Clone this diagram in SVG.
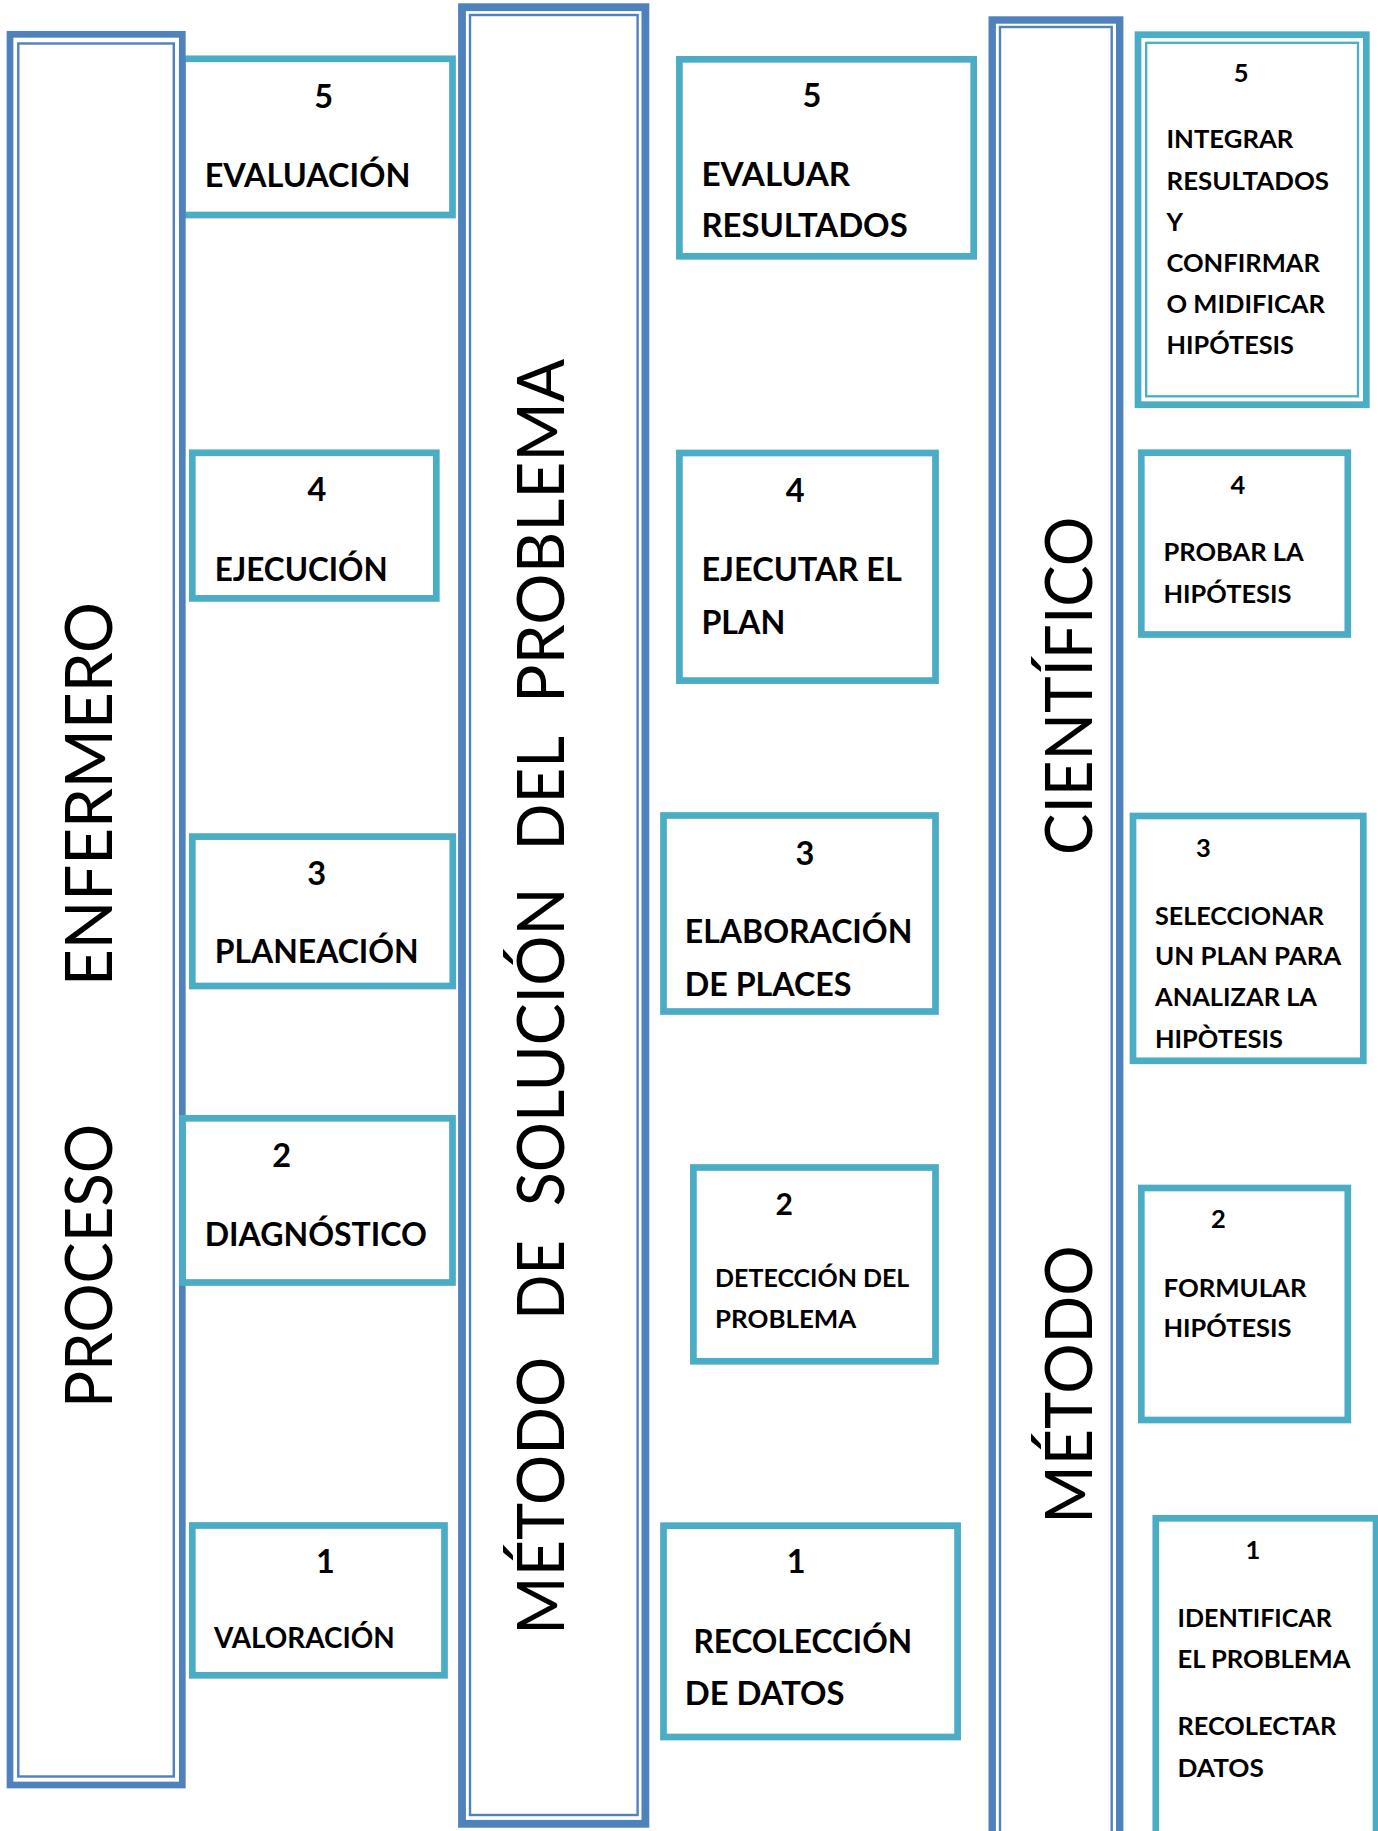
<svg xmlns="http://www.w3.org/2000/svg" width="1378" height="1831" viewBox="0 0 1378 1831">
  <style>
    .col-outer { fill: none; stroke: #4F81BD; }
    .col-inner { fill: none; stroke: #4F81BD; stroke-width: 2.4; }
    .box { fill: none; stroke: #4BACC6; stroke-width: 6.7; }
    .box-thin { fill: none; stroke: #4BACC6; stroke-width: 2.3; }
    text { font-family: Lato, "Open Sans", "Liberation Sans", sans-serif; fill: #000; }
    .num { font-weight: 700; text-anchor: middle; }
    .lbl { font-weight: 700; }
    .big { font-size: 32.5px; }
    .mid { font-size: 28.5px; }
    .sm { font-size: 25.5px; }
    .vert { font-weight: 400; font-size: 65px; }
  </style>

  <rect x="0" y="0" width="1378" height="1831" fill="#FFFFFF"/>

  <!-- step 5 of the nursing process sits partly under the column frame -->
  <g id="pe-5">
    <rect class="box" x="182.3" y="58.8" width="270.2" height="156.2"/>
    <text class="num big" x="323.7" y="108.3">5</text>
    <text class="lbl big" x="204.7" y="186.7" textLength="205.7" lengthAdjust="spacingAndGlyphs">EVALUACIÓN</text>
  </g>

  <!-- column frames with vertical titles -->
  <g id="col-proceso-enfermero">
    <rect class="col-outer" stroke-width="6.7" x="10" y="34.3" width="172.3" height="1750.7"/>
    <rect class="col-inner" x="18.3" y="43.5" width="155.5" height="1733"/>
    <g transform="rotate(-90)">
      <text class="vert" x="-1408" y="111.5" textLength="284" lengthAdjust="spacingAndGlyphs">PROCESO</text>
      <text class="vert" x="-986" y="111.5" textLength="384" lengthAdjust="spacingAndGlyphs">ENFERMERO</text>
    </g>
  </g>

  <g id="col-solucion-problema">
    <rect class="col-outer" stroke-width="7.8" x="462" y="7.2" width="183.4" height="1816.6"/>
    <rect class="col-inner" x="470" y="15" width="167.6" height="1800"/>
    <g transform="rotate(-90)">
      <text class="vert" x="-1634.7" y="564" textLength="278" lengthAdjust="spacingAndGlyphs">MÉTODO</text>
      <text class="vert" x="-1319.7" y="564" textLength="79.4" lengthAdjust="spacingAndGlyphs">DE</text>
      <text class="vert" x="-1206.3" y="564" textLength="318.6" lengthAdjust="spacingAndGlyphs">SOLUCIÓN</text>
      <text class="vert" x="-850.4" y="564" textLength="114.4" lengthAdjust="spacingAndGlyphs">DEL</text>
      <text class="vert" x="-703" y="564" textLength="344.3" lengthAdjust="spacingAndGlyphs">PROBLEMA</text>
    </g>
  </g>

  <g id="col-metodo-cientifico">
    <rect class="col-outer" stroke-width="7.4" x="992.2" y="20" width="127.5" height="1900"/>
    <rect class="col-inner" x="1000" y="27" width="111.7" height="1900"/>
    <g transform="rotate(-90)">
      <text class="vert" x="-1523.7" y="1091.7" textLength="278.4" lengthAdjust="spacingAndGlyphs">MÉTODO</text>
      <text class="vert" x="-855" y="1091.7" textLength="338.4" lengthAdjust="spacingAndGlyphs">CIENTÍFICO</text>
    </g>
  </g>

  <!-- nursing process steps -->
  <g id="pe-4">
    <rect class="box" x="192.3" y="452.8" width="244" height="145.6"/>
    <text class="num big" x="317" y="501.4">4</text>
    <text class="lbl big" x="214.7" y="581" textLength="173" lengthAdjust="spacingAndGlyphs">EJECUCIÓN</text>
  </g>
  <g id="pe-3">
    <rect class="box" x="192.3" y="836.6" width="260.5" height="149.4"/>
    <text class="num big" x="316.7" y="884.6">3</text>
    <text class="lbl big" x="214.7" y="963.2" textLength="204" lengthAdjust="spacingAndGlyphs">PLANEACIÓN</text>
  </g>
  <g id="pe-2">
    <rect class="box" x="182.5" y="1118.3" width="270" height="164.2"/>
    <text class="num big" x="281.7" y="1166.7">2</text>
    <text class="lbl big" x="204.7" y="1245.7" textLength="222.3" lengthAdjust="spacingAndGlyphs">DIAGNÓSTICO</text>
  </g>
  <g id="pe-1">
    <rect class="box" x="192.3" y="1525.5" width="252.2" height="149.8"/>
    <text class="num big" x="325.5" y="1573.3">1</text>
    <text class="lbl mid" x="214" y="1647.7" textLength="180.7" lengthAdjust="spacingAndGlyphs">VALORACIÓN</text>
  </g>

  <!-- problem solving steps -->
  <g id="sp-5">
    <rect class="box" x="679.4" y="59.3" width="294.3" height="197"/>
    <text class="num big" x="811.9" y="107.3">5</text>
    <text class="lbl big" x="701.4" y="186" textLength="148.8" lengthAdjust="spacingAndGlyphs">EVALUAR</text>
    <text class="lbl big" x="701.4" y="237.3" textLength="206.3" lengthAdjust="spacingAndGlyphs">RESULTADOS</text>
  </g>
  <g id="sp-4">
    <rect class="box" x="679.4" y="453" width="256.1" height="227.6"/>
    <text class="num big" x="795.1" y="501.7">4</text>
    <text class="lbl big" x="701.4" y="580.7" textLength="200.4" lengthAdjust="spacingAndGlyphs">EJECUTAR EL</text>
    <text class="lbl big" x="701.4" y="633.6" textLength="84" lengthAdjust="spacingAndGlyphs">PLAN</text>
  </g>
  <g id="sp-3">
    <rect class="box" x="663.5" y="815.5" width="272" height="196"/>
    <text class="num big" x="805" y="864.7">3</text>
    <text class="lbl big" x="684.8" y="942.8" textLength="227.6" lengthAdjust="spacingAndGlyphs">ELABORACIÓN</text>
    <text class="lbl big" x="684.8" y="995.7" textLength="166.7" lengthAdjust="spacingAndGlyphs">DE PLACES</text>
  </g>
  <g id="sp-2">
    <rect class="box" x="693.4" y="1167.5" width="242.1" height="193.8"/>
    <text class="num" style="font-size:30px" x="784.3" y="1215">2</text>
    <text class="lbl sm" x="715.1" y="1286.7" textLength="194.2" lengthAdjust="spacingAndGlyphs">DETECCIÓN DEL</text>
    <text class="lbl sm" x="715.1" y="1328.3" textLength="141.2" lengthAdjust="spacingAndGlyphs">PROBLEMA</text>
  </g>
  <g id="sp-1">
    <rect class="box" x="663.5" y="1525.7" width="294.1" height="211.3"/>
    <text class="num big" x="796.2" y="1573.3">1</text>
    <text class="lbl big" x="693.4" y="1652.7" textLength="218.7" lengthAdjust="spacingAndGlyphs">RECOLECCIÓN</text>
    <text class="lbl big" x="684.8" y="1705" textLength="159.8" lengthAdjust="spacingAndGlyphs">DE DATOS</text>
  </g>

  <!-- scientific method steps -->
  <g id="mc-5">
    <rect class="box" stroke-width="7.3" x="1138" y="34.7" width="228.3" height="370"/>
    <rect class="box-thin" x="1146.2" y="42.8" width="211.8" height="353.5"/>
    <text class="num sm" x="1241.2" y="81.7">5</text>
    <text class="lbl sm" x="1166.5" y="148.3" textLength="126.8" lengthAdjust="spacingAndGlyphs">INTEGRAR</text>
    <text class="lbl sm" x="1166.5" y="190" textLength="162.5" lengthAdjust="spacingAndGlyphs">RESULTADOS</text>
    <text class="lbl sm" x="1166.5" y="230.7">Y</text>
    <text class="lbl sm" x="1166.5" y="272.3" textLength="153.5" lengthAdjust="spacingAndGlyphs">CONFIRMAR</text>
    <text class="lbl sm" x="1166.5" y="313.3" textLength="158.5" lengthAdjust="spacingAndGlyphs">O MIDIFICAR</text>
    <text class="lbl sm" x="1166.5" y="354" textLength="127.5" lengthAdjust="spacingAndGlyphs">HIPÓTESIS</text>
  </g>
  <g id="mc-4">
    <rect class="box" x="1141.3" y="452.7" width="206.5" height="181.8"/>
    <text class="num sm" x="1237.8" y="493.9">4</text>
    <text class="lbl sm" x="1163.5" y="561.2" textLength="140.3" lengthAdjust="spacingAndGlyphs">PROBAR LA</text>
    <text class="lbl sm" x="1163.5" y="603.3" textLength="128" lengthAdjust="spacingAndGlyphs">HIPÓTESIS</text>
  </g>
  <g id="mc-3">
    <rect class="box" x="1133" y="816" width="230.3" height="244.8"/>
    <text class="num sm" x="1203.3" y="857.1">3</text>
    <text class="lbl sm" x="1155" y="924.5" textLength="169" lengthAdjust="spacingAndGlyphs">SELECCIONAR</text>
    <text class="lbl sm" x="1155" y="965.3" textLength="186.3" lengthAdjust="spacingAndGlyphs">UN PLAN PARA</text>
    <text class="lbl sm" x="1155" y="1006.1" textLength="162" lengthAdjust="spacingAndGlyphs">ANALIZAR LA</text>
    <text class="lbl sm" x="1155" y="1048.2" textLength="128" lengthAdjust="spacingAndGlyphs">HIPÒTESIS</text>
  </g>
  <g id="mc-2">
    <rect class="box" x="1141.3" y="1188" width="206.5" height="232"/>
    <text class="num sm" x="1218.3" y="1228.3">2</text>
    <text class="lbl sm" x="1163.5" y="1296.7" textLength="143" lengthAdjust="spacingAndGlyphs">FORMULAR</text>
    <text class="lbl sm" x="1163.5" y="1337.3" textLength="128" lengthAdjust="spacingAndGlyphs">HIPÓTESIS</text>
  </g>
  <g id="mc-1">
    <rect class="box" x="1155.8" y="1518.3" width="220.2" height="381.7"/>
    <text class="num sm" x="1252.8" y="1559.3">1</text>
    <text class="lbl sm" x="1177.5" y="1626.7" textLength="154.3" lengthAdjust="spacingAndGlyphs">IDENTIFICAR</text>
    <text class="lbl sm" x="1177.5" y="1668.3" textLength="173" lengthAdjust="spacingAndGlyphs">EL PROBLEMA</text>
    <text class="lbl sm" x="1177.5" y="1735" textLength="158.7" lengthAdjust="spacingAndGlyphs">RECOLECTAR</text>
    <text class="lbl sm" x="1177.5" y="1776.7" textLength="86.3" lengthAdjust="spacingAndGlyphs">DATOS</text>
  </g>

  <g id="connectors"/>
</svg>
